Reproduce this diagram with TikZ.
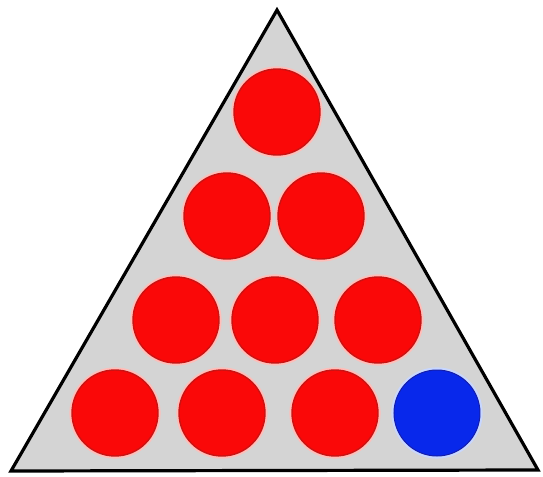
\documentclass[tikz,border=0pt]{standalone}
\definecolor{trifill}{RGB}{212,212,212}
\definecolor{ballred}{RGB}{250,8,8}
\definecolor{balledge}{RGB}{200,20,20}
\definecolor{ballblue}{RGB}{8,40,235}
\definecolor{blueedge}{RGB}{20,30,170}
\definecolor{halored}{RGB}{255,190,185}
\definecolor{haloblue}{RGB}{200,215,255}
\tikzset{
  redball/.style={circle, inner sep=0pt, minimum size=43pt, fill=ballred, draw=balledge, line width=0.7pt,
    preaction={draw=halored, line width=2.6pt}},
  blueball/.style={circle, inner sep=0pt, minimum size=43pt, fill=ballblue, draw=blueedge, line width=0.5pt,
    preaction={draw=haloblue, line width=2.6pt}},
  rack/.style={fill=trifill, draw=black, line width=1.6pt, line join=miter}
}
\begin{document}
\begin{tikzpicture}[x=0.5pt, y=-0.5pt]
\useasboundingbox (0,0) rectangle (543,477);
\coordinate (apex) at (277,10);
\coordinate (bl) at (11,471);
\coordinate (br) at (538,470);
\draw[rack] (apex) -- (br) -- (bl) -- cycle;
% row 1
\node[redball] (b1) at (277,112) {};
% row 2
\node[redball] (b2) at (227,216) {};
\node[redball] (b3) at (321,216) {};
% row 3
\node[redball] (b4) at (176,320) {};
\node[redball] (b5) at (275,320) {};
\node[redball] (b6) at (378,320) {};
% row 4
\node[redball] (b7) at (115,413) {};
\node[redball] (b8) at (222,413) {};
\node[redball] (b9) at (335,413) {};
\node[blueball] (b10) at (437,413) {};
\end{tikzpicture}
\end{document}
